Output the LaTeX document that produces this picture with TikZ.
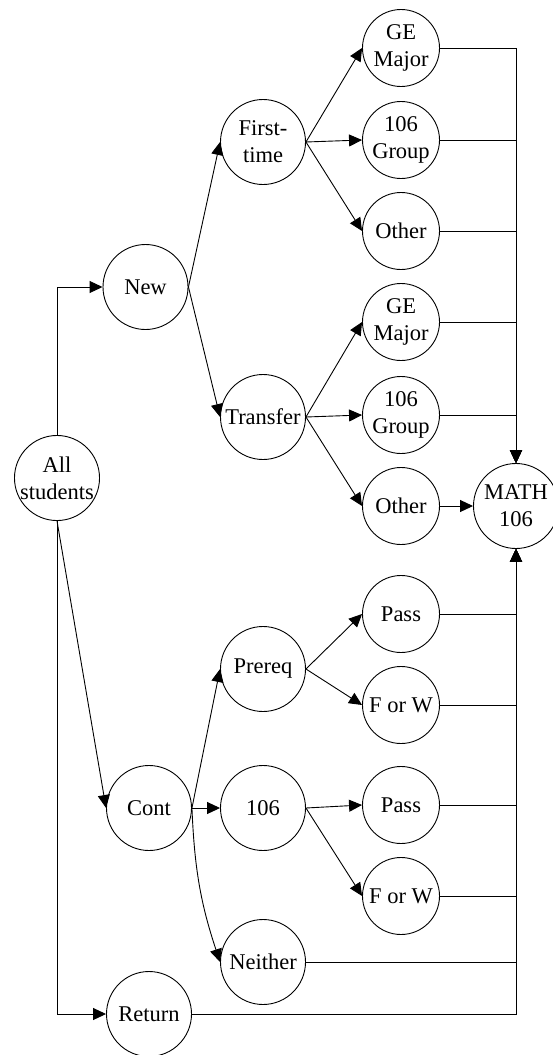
\documentclass[tikz,border=0pt]{standalone}
\usepackage{fontspec}
\setmainfont{Liberation Serif}
\usetikzlibrary{arrows.meta}

\begin{document}
\begin{tikzpicture}
[
    x=1pt, y=-1pt,
    line width=0.9pt,
    every node/.style={font=\fontsize{22.5}{26.7}\selectfont, align=center},
    big/.style={draw, circle, minimum size=85pt, inner sep=0pt},
    small/.style={draw, circle, minimum size=77pt, inner sep=0pt},
    flow/.style={-{Triangle[length=13pt, width=12pt]}}
]
    \useasboundingbox (0,0) rectangle (552,1055);

    \node [big] (all) at (57,478) {All\\students};
    \node [big] (new) at (145.5,287) {New};
    \node [big] (cont) at (149,808) {Cont};
    \node [big] (ret) at (149,1014) {Return};

    \node [big] (first) at (263,142) {First-\\time};
    \node [big] (trans) at (263,417) {Transfer};
    \node [big] (prereq) at (263,669) {Prereq};
    \node [big] (crs) at (263,808) {106};
    \node [big] (neither) at (263,962) {Neither};

    \node [small] (ftge) at (401,48) {GE\\Major};
    \node [small] (ftgrp) at (401,140) {106\\Group};
    \node [small] (ftoth) at (401,231) {Other};
    \node [small] (trge) at (401,322) {GE\\Major};
    \node [small] (trgrp) at (401,415) {106\\Group};
    \node [small] (troth) at (401,506) {Other};
    \node [small] (prpass) at (401,614) {Pass};
    \node [small] (prfw) at (401,705) {F or W};
    \node [small] (crpass) at (401,805) {Pass};
    \node [small] (crfw) at (401,896) {F or W};

    \node [big] (math) at (516,506) {MATH\\106};

    \draw [flow] (all.north) |- (new.west);
    \draw [flow] (all.south) -- (cont.west);
    \draw [flow] (all.south) |- (ret.west);

    \draw [flow] (new.east) -- (first.west);
    \draw [flow] (new.east) -- (trans.west);
    \foreach \kid in {ftge, ftgrp, ftoth}
        \draw [flow] (first.east) -- (\kid.west);
    \foreach \kid in {trge, trgrp, troth}
        \draw [flow] (trans.east) -- (\kid.west);

    \draw [flow] (cont.east) -- (prereq.west);
    \draw [flow] (cont.east) -- (crs.west);
    \draw [flow] (cont.east) to [bend right=8] (neither.west);
    \draw [flow] (prereq.east) -- (prpass.west);
    \draw [flow] (prereq.east) -- (prfw.west);
    \draw [flow] (crs.east) -- (crpass.west);
    \draw [flow] (crs.east) -- (crfw.west);

    \draw [flow] (troth.east) -- (math.west);
    \foreach \kid in {ftge, ftgrp, ftoth, trge, trgrp}
        \draw [flow] (\kid.east) -| (math.north);
    \foreach \kid in {prpass, prfw, crpass, crfw, neither, ret}
        \draw [flow] (\kid.east) -| (math.south);
\end{tikzpicture}
\end{document}
